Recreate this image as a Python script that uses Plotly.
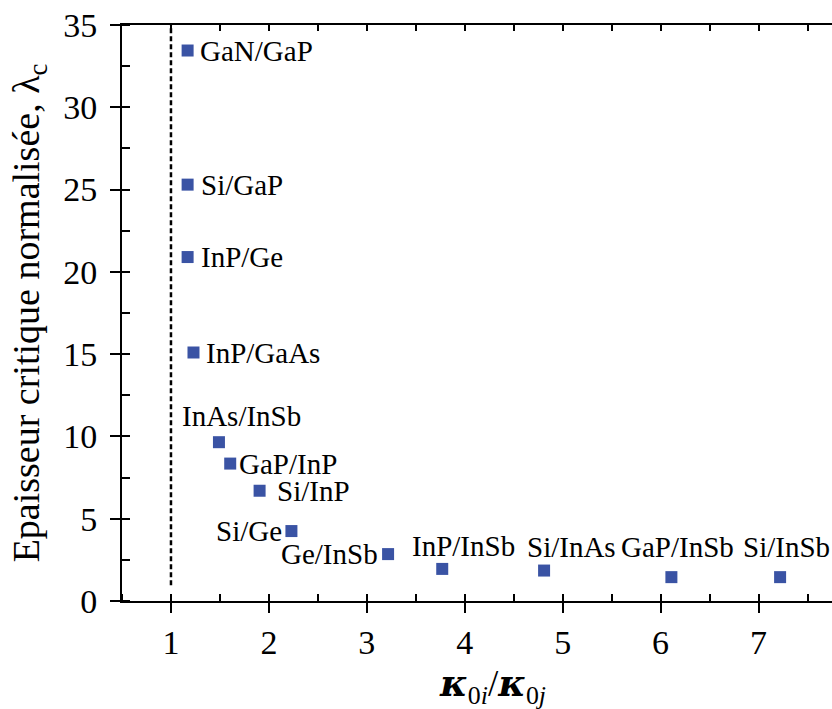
import plotly.graph_objects as go

# ---- data ----
pairs = ["GaN/GaP", "Si/GaP", "InP/Ge", "InP/GaAs", "InAs/InSb", "GaP/InP",
         "Si/InP", "Si/Ge", "Ge/InSb", "InP/InSb", "Si/InAs", "GaP/InSb", "Si/InSb"]
kappa_ratio = [1.17, 1.17, 1.17, 1.23, 1.49, 1.605, 1.905, 2.23, 3.217, 3.77, 4.81, 6.11, 7.22]
lambda_c = [33.45, 25.3, 20.9, 15.1, 9.65, 8.35, 6.7, 4.25, 2.85, 1.95, 1.85, 1.45, 1.45]
threshold_x = [1.0, 1.0]
threshold_y = [0.95, 35.0]

KAPPA = "<span style='font-family:DejaVu Serif'><b><i>κ</i></b></span>"
x_title = KAPPA + "<sub>0<i>i</i></sub>/" + KAPPA + "<sub>0<i>j</i></sub>"
y_title = "Epaisseur critique normalisée, λ<sub>c</sub>"

# ---- label placement (style) ----
label_style = {
    "GaN/GaP":   ("left", "middle", 10, 0),
    "Si/GaP":    ("left", "middle", 11, 0),
    "InP/Ge":    ("left", "middle", 11, 0),
    "InP/GaAs":  ("left", "middle", 11, 0),
    "InAs/InSb": ("left", "bottom", -39, 8),
    "GaP/InP":   ("left", "middle", 7, 0),
    "Si/InP":    ("left", "middle", 15, 0),
    "Si/Ge":     ("right", "middle", -7, 0),
    "Ge/InSb":   ("right", "middle", -8, 0),
    "InP/InSb":  ("left", "bottom", -32, 5),
    "Si/InAs":   ("left", "bottom", -19, 6),
    "GaP/InSb":  ("left", "bottom", -52, 12),
    "Si/InSb":   ("left", "bottom", -39, 12),
}

FONT = "Liberation Serif, Times New Roman, serif"
BLUE = "#3a53a4"

fig = go.Figure()
fig.add_trace(go.Scatter(x=threshold_x, y=threshold_y, mode="lines",
                         line=dict(color="black", width=2.5, dash="5px,3px"),
                         showlegend=False, hoverinfo="skip"))
fig.add_trace(go.Scatter(x=kappa_ratio, y=lambda_c, mode="markers",
                         marker=dict(symbol="square", size=12, color=BLUE),
                         text=pairs, showlegend=False))
# invisible trace to register the top axis
fig.add_trace(go.Scatter(x=[kappa_ratio[0]], y=[lambda_c[0]], xaxis="x2", mode="markers",
                         marker=dict(opacity=0), showlegend=False, hoverinfo="skip"))

for name, xv, yv in zip(pairs, kappa_ratio, lambda_c):
    xa, ya, xs, ys = label_style[name]
    fig.add_annotation(x=xv, y=yv, text=name, showarrow=False, xanchor=xa, yanchor=ya,
                       xshift=xs, yshift=ys, font=dict(family=FONT, size=29, color="black"))

# x-axis title (centered on the full original plot width, whose right part is cropped)
fig.add_annotation(xref="paper", yref="paper", x=0.5225, y=0, yshift=-58,
                   xanchor="center", yanchor="top", showarrow=False, text=x_title,
                   font=dict(family=FONT, size=37, color="black"))

XR = [0.5, 7.75]
axis_common = dict(showgrid=False, zeroline=False, showline=True, linecolor="black",
                   linewidth=2, tickcolor="black", tickwidth=2, automargin=False,
                   tickfont=dict(family=FONT, size=34, color="black"))

fig.update_layout(
    width=832, height=709,
    margin=dict(l=122, r=0, t=25, b=108),
    plot_bgcolor="white", paper_bgcolor="white",
    font=dict(family=FONT, color="black"),
    xaxis=dict(range=XR, tick0=0, dtick=1, ticks="outside", ticklen=10,
               minor=dict(dtick=0.5, ticks="inside", ticklen=7, tickwidth=2, tickcolor="black"),
               **axis_common),
    xaxis2=dict(overlaying="x", side="top", range=XR, tick0=0, dtick=0.5,
                ticks="inside", ticklen=6, showticklabels=False, showgrid=False,
                zeroline=False, showline=True, linecolor="black", linewidth=2,
                tickcolor="black", tickwidth=2, automargin=False),
    yaxis=dict(range=[0, 35], tick0=0, dtick=5, ticks="outside", ticklen=10,
               ticklabelstandoff=6,
               minor=dict(dtick=2.5, ticks="inside", ticklen=8, tickwidth=2, tickcolor="black"),
               title=dict(text=y_title, font=dict(family=FONT, size=38), standoff=12),
               **axis_common),
)

# remove the default page margin so the figure fills the window exactly
fig.write_html("out.html", config={"displayModeBar": False},
               post_script="document.body.style.margin='0';document.body.style.overflow='hidden';")
